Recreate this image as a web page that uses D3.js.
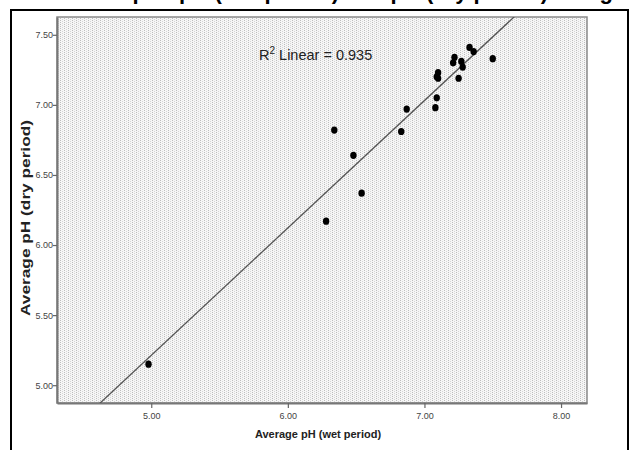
<!DOCTYPE html>
<html>
<head>
<meta charset="utf-8">
<script src="https://cdn.jsdelivr.net/npm/d3@7"></script>
<style>
  body { margin: 0; background: #fff; }
  svg { display: block; }
</style>
</head>
<body>
<div id="chart"></div>
<script>
// values
const wetPH = [4.98, 6.28, 6.34, 6.48, 6.54, 6.83, 6.87, 7.08, 7.09, 7.09, 7.10, 7.10,
               7.21, 7.22, 7.25, 7.27, 7.28, 7.33, 7.36, 7.50];
const dryPH = [5.15, 6.17, 6.82, 6.64, 6.37, 6.81, 6.97, 6.98, 7.05, 7.20, 7.23, 7.19,
               7.30, 7.34, 7.19, 7.31, 7.27, 7.41, 7.38, 7.33];
const xTicks = [5, 6, 7, 8];
const yTicks = [5, 5.5, 6, 6.5, 7, 7.5];
const fitSlope = 0.909, fitIntercept = 0.668;
const fitLabel = "0.935";

const width = 630, height = 450;
const plot = {left: 57, top: 17, right: 587, bottom: 403};

const x = d3.scaleLinear().domain([4.31, 8.19]).range([plot.left, plot.right]);
const y = d3.scaleLinear().domain([4.873, 7.627]).range([plot.bottom, plot.top]);

const svg = d3.select('#chart').append('svg')
    .attr('width', width).attr('height', height);

// dotted fill like the SPSS chart area
const defs = svg.append('defs');
const pat = defs.append('pattern').attr('id', 'dots')
    .attr('patternUnits', 'userSpaceOnUse')
    .attr('width', 4).attr('height', 2);
pat.append('rect').attr('width', 4).attr('height', 2).attr('fill', '#f6f6f6');
pat.append('rect').attr('x', 0).attr('y', 0).attr('width', 1).attr('height', 1).attr('fill', '#bdbdbd');
pat.append('rect').attr('x', 2).attr('y', 1).attr('width', 1).attr('height', 1).attr('fill', '#d6d6d6');
defs.append('clipPath').attr('id', 'clip').append('rect')
    .attr('x', plot.left).attr('y', plot.top)
    .attr('width', plot.right - plot.left).attr('height', plot.bottom - plot.top);

// caption of the page, cropped at the top edge (only descenders show), then the page border
svg.append('text')
    .attr('x', 14).attr('y', -1.5)
    .attr('font-family', 'Liberation Sans, Arial, sans-serif')
    .attr('font-weight', 'bold').attr('font-size', 22)
    .attr('fill', '#000')
    .text('Relationship of pH (wet period) and pH (dry period) using regression');
svg.append('rect')
    .attr('x', 11).attr('y', 10).attr('width', 617).attr('height', 460)
    .attr('fill', 'none').attr('stroke', '#000').attr('stroke-width', 2);

svg.append('rect')
    .attr('x', plot.left).attr('y', plot.top)
    .attr('width', plot.right - plot.left).attr('height', plot.bottom - plot.top)
    .attr('fill', 'url(#dots)').attr('stroke', '#8a8a8a').attr('stroke-width', 1.5);

// axes
const xAxis = svg.append('g')
    .attr('transform', `translate(0,${plot.bottom})`)
    .call(d3.axisBottom(x).tickValues(xTicks).tickFormat(d3.format('.2f')).tickSize(5).tickSizeOuter(0));
const yAxis = svg.append('g')
    .attr('transform', `translate(${plot.left},0)`)
    .call(d3.axisLeft(y).tickValues(yTicks).tickFormat(d3.format('.2f')).tickSize(4).tickSizeOuter(0));
[xAxis, yAxis].forEach(a => {
    a.select('.domain').attr('stroke', '#777').attr('stroke-width', 2);
    a.selectAll('.tick line').attr('stroke', '#666').attr('stroke-width', 1.2);
    a.selectAll('.tick text')
        .attr('font-family', 'Liberation Sans Narrow, Arial Narrow, sans-serif')
        .attr('font-size', 9).attr('fill', '#444');
});
xAxis.selectAll('.tick text').attr('dy', '0.9em');
yAxis.selectAll('.tick text').attr('x', -4);

// axis titles
svg.append('text')
    .attr('x', 318).attr('y', 438)
    .attr('text-anchor', 'middle')
    .attr('font-family', 'Liberation Sans, Arial, sans-serif')
    .attr('font-weight', 'bold').attr('font-size', 11).attr('fill', '#222')
    .text('Average pH (wet period)');
svg.append('text')
    .attr('transform', `translate(30,${(plot.top + plot.bottom) / 2 + 8}) rotate(-90)`)
    .attr('text-anchor', 'middle')
    .attr('font-family', 'Liberation Sans, Arial, sans-serif')
    .attr('font-weight', 'bold').attr('font-size', 12).attr('fill', '#222')
    .attr('textLength', 196).attr('lengthAdjust', 'spacingAndGlyphs')
    .text('Average pH (dry period)');

// fit line
const xs = x.domain();
svg.append('line')
    .attr('clip-path', 'url(#clip)')
    .attr('x1', x(xs[0])).attr('y1', y(fitIntercept + fitSlope * xs[0]))
    .attr('x2', x(xs[1])).attr('y2', y(fitIntercept + fitSlope * xs[1]))
    .attr('stroke', '#555').attr('stroke-width', 1.3);

// points
svg.append('g')
    .selectAll('ellipse')
    .data(d3.zip(wetPH, dryPH))
    .enter()
    .append('ellipse')
    .attr('cx', d => x(d[0])).attr('cy', d => y(d[1]))
    .attr('rx', 3.2).attr('ry', 3.6)
    .attr('fill', '#000');

// R² annotation
const r2 = svg.append('text')
    .attr('x', 259).attr('y', 60)
    .attr('font-family', 'Liberation Sans Narrow, Arial Narrow, sans-serif')
    .attr('font-size', 14.5).attr('fill', '#222');
r2.append('tspan').text('R');
r2.append('tspan').attr('font-size', 10).attr('dy', -6).text('2');
r2.append('tspan').attr('dy', 6).text(' Linear = ' + fitLabel);
</script>
</body>
</html>
